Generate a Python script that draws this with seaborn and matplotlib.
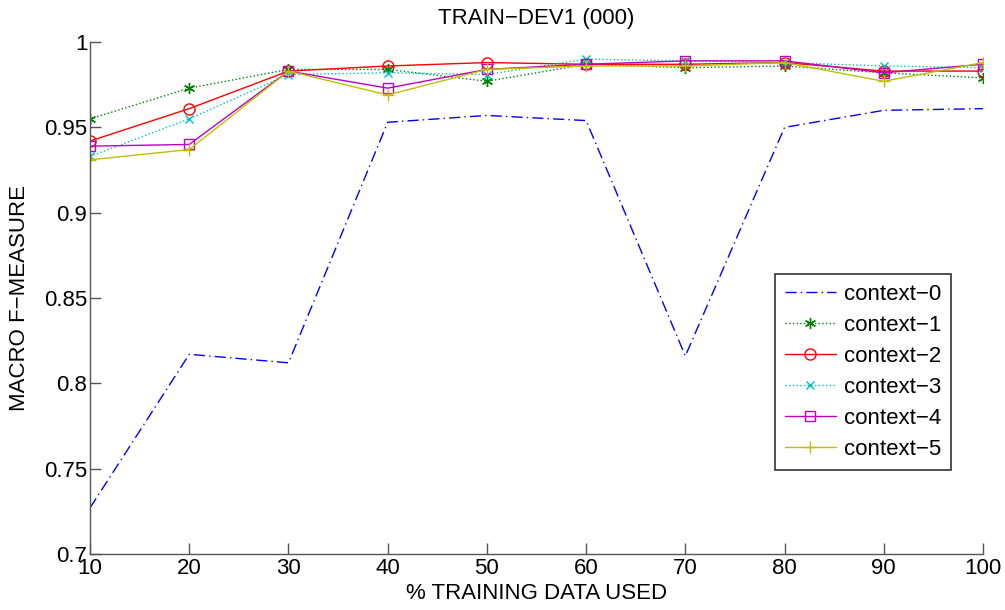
import numpy as np
import pandas as pd
import matplotlib
matplotlib.use('Agg')
import matplotlib.pyplot as plt
import seaborn as sns

# data
pct_used = [10, 20, 30, 40, 50, 60, 70, 80, 90, 100]
context_0 = [0.727, 0.817, 0.812, 0.953, 0.957, 0.954, 0.816, 0.950, 0.960, 0.961]
context_1 = [0.955, 0.973, 0.984, 0.984, 0.977, 0.987, 0.985, 0.986, 0.982, 0.979]
context_2 = [0.942, 0.961, 0.983, 0.986, 0.988, 0.987, 0.987, 0.988, 0.983, 0.983]
context_3 = [0.933, 0.955, 0.981, 0.982, 0.981, 0.990, 0.989, 0.988, 0.986, 0.985]
context_4 = [0.939, 0.940, 0.983, 0.973, 0.984, 0.987, 0.989, 0.989, 0.982, 0.987]
context_5 = [0.931, 0.937, 0.983, 0.969, 0.984, 0.986, 0.986, 0.988, 0.977, 0.988]

series_names = ['context-0', 'context-1', 'context-2', 'context-3', 'context-4', 'context-5']
series_vals = [context_0, context_1, context_2, context_3, context_4, context_5]

# matlab-ish default colours and styles
colors = ['#0000ff', '#008000', '#ff0000', '#00bfbf', '#bf00bf', '#bfbf00']
styles = [(0, (8, 3, 1, 3)), ':', '-', ':', '-', '-']
markers = [None, (6, 2, 0), 'o', 'x', 's', '+']
msizes = [0, 8, 8, 6, 7, 9]

sns.set_style('ticks')
plt.rcParams['font.family'] = ['Liberation Sans', 'DejaVu Sans']
plt.rcParams['text.color'] = 'black'
plt.rcParams['axes.labelcolor'] = 'black'
plt.rcParams['xtick.color'] = 'black'
plt.rcParams['ytick.color'] = 'black'
plt.rcParams['xtick.direction'] = 'in'
plt.rcParams['ytick.direction'] = 'in'

fig = plt.figure(figsize=(10.05, 6.1), dpi=100)
ax = fig.add_axes([0.0896, 0.092, 0.8885, 0.839])

for name, vals, c, ls, mk, ms in zip(series_names, series_vals, colors, styles, markers, msizes):
    df = pd.DataFrame({'pct': pct_used, 'f': vals})
    sns.lineplot(data=df, x='pct', y='f', ax=ax, color=c, linestyle=ls,
                 marker=mk, markersize=ms, mfc='none', mec=c,
                 mew=1.0, lw=1.0, label=name.replace('-', '\u2212'))

ax.set_xlim(10, 100)
ax.set_ylim(0.7, 1.0)
ax.set_xticks(pct_used)
ax.set_yticks([0.7, 0.75, 0.8, 0.85, 0.9, 0.95, 1.0])
ax.set_yticklabels(['0.7', '0.75', '0.8', '0.85', '0.9', '0.95', '1'])
ax.tick_params(labelsize=16, length=8, width=1, color='#555555', pad=3)
ax.tick_params(axis='y', pad=2)
for side in ['top', 'right']:
    ax.spines[side].set_visible(False)
for side in ['left', 'bottom']:
    ax.spines[side].set_color('#555555')
    ax.spines[side].set_linewidth(1)

ax.set_title('TRAIN\u2212DEV1 (000)', fontsize=16, pad=13)
ax.set_xlabel('% TRAINING DATA USED', fontsize=16, labelpad=3)
ax.set_ylabel('MACRO F\u2212MEASURE', fontsize=16, labelpad=10)

leg = ax.legend(loc='upper left', bbox_to_anchor=(0.767, 0.547), fontsize=16,
                frameon=True, fancybox=False, edgecolor='black', handlelength=2.3,
                labelspacing=0.45, borderpad=0.45, handletextpad=0.35,
                borderaxespad=0)
leg.get_frame().set_linewidth(1.2)
for t in leg.get_texts():
    t.set_color('black')

plt.savefig('out.png', dpi=100)
